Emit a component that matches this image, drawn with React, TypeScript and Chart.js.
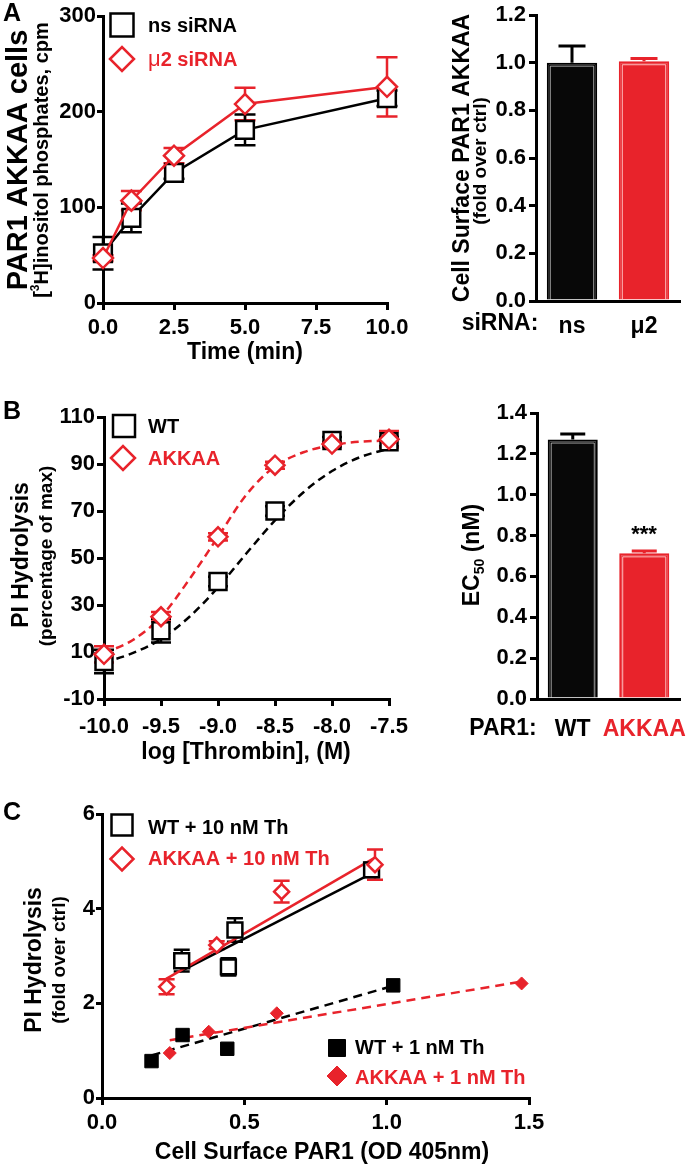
import React, { useEffect, useRef } from 'react';
import { Chart, registerables } from 'chart.js';

Chart.register(...registerables);

const FONT = '"Liberation Sans", Arial, Helvetica, sans-serif';
const RED = '#e8232b';
const BLACK = '#000000';
const BAR_BLACK = '#080808';

// ---------- Panel A (left): time course ----------
const timeMin = [0, 1, 2.5, 5, 10];
const nsSiRNA = [52, 89, 136, 181, 214];
const nsSiRNAErr = [17, 15, 6, 16, 8];
const mu2SiRNA = [47, 107, 154, 208, 226];
const mu2SiRNAErr = [3, 10, 8, 17, 31];

// ---------- Panel A (right): surface expression ----------
const sirnaLabels = ['ns', 'μ2'];
const surfaceAKKAA = [1.0, 1.006];
const surfaceAKKAAErr = [0.07, 0.012];

// ---------- Panel B (left): concentration response ----------
const logThrombin = [-10, -9.5, -9, -8.5, -8, -7.5];
const wtPI = [6, 19, 40, 70, 100, 99.5];
const wtPIErr = [5, 5, 2, 2, 1.5, 2];
const akkaaPI = [9, 25, 59, 89.5, 98.5, 100.5];
const akkaaPIErr = [3.5, 2, 1.5, 1.5, 1, 3.5];
// fitted curves
const fitLogX = [-10, -9.75, -9.5, -9.25, -9, -8.75, -8.5, -8.25, -8, -7.75, -7.5];
const wtFit = [5.5, 9.5, 15.5, 25, 37.5, 52, 66, 78, 87, 93, 96.5];
const akkaaFit = [9.5, 15, 25, 41, 59, 77, 89, 95, 98, 99.5, 100];

// ---------- Panel B (right): EC50 ----------
const par1Labels = ['WT', 'AKKAA'];
const ec50 = [1.27, 0.713];
const ec50Err = [0.027, 0.011];

// ---------- Panel C: PI hydrolysis vs surface PAR1 ----------
const wt10X = [0.28, 0.444, 0.467, 0.947];
const wt10Y = [2.9, 2.77, 3.55, 4.82];
const wt10Err = [0.23, 0.18, 0.25, 0.15];
const akkaa10X = [0.227, 0.403, 0.631, 0.959];
const akkaa10Y = [2.35, 3.23, 4.36, 4.93];
const akkaa10Err = [0.16, 0.08, 0.23, 0.32];
const wt1X = [0.174, 0.283, 0.44, 1.023];
const wt1Y = [0.78, 1.33, 1.04, 2.38];
const akkaa1X = [0.238, 0.375, 0.614, 1.474];
const akkaa1Y = [0.95, 1.4, 1.79, 2.42];
// regression lines (end points)
const wt10FitX = [0.274, 0.953];
const wt10FitY = [2.67, 4.76];
const akkaa10FitX = [0.221, 0.959];
const akkaa10FitY = [2.5, 5.08];
const wt1FitX = [0.174, 1.023];
const wt1FitY = [0.9, 2.37];
const akkaa1FitX = [0.238, 1.474];
const akkaa1FitY = [1.22, 2.46];

// ---------- helpers ----------
type Box = { left: number; top: number; width: number; height: number };
type Area = { left: number; top: number; right: number; bottom: number };
type Run = { t: string; font: string; dy?: number; color?: string };
type TextItem = { x: number; y: number; runs: Run[]; align?: 'left' | 'center' | 'right'; rot?: number; color?: string };
type Mark = { x: number; y: number; style: 'square' | 'diamond'; size: number; fill: string; stroke: string; lw: number };

const bold = (s: number) => `bold ${s}px ${FONT}`;
const regular = (s: number) => `${s}px ${FONT}`;
const ROT = -Math.PI / 2;
const Y_W = 50;
const X_H = 40;

const pts = (xs: number[], ys: number[]) => xs.map((x, i) => ({ x, y: ys[i] }));

function layoutFor(box: Box, area: Area) {
  return {
    padding: {
      left: area.left - box.left - Y_W,
      top: area.top - box.top,
      right: box.left + box.width - area.right,
      bottom: box.top + box.height - area.bottom - X_H,
    },
  };
}

const tickFont = { family: FONT, size: 22, weight: 'bold' as const };

function fitScale(horizontal: boolean) {
  return (s: any) => {
    if (horizontal) {
      s.height = X_H;
      s.paddingLeft = 0;
      s.paddingRight = 0;
    } else {
      s.width = Y_W;
      s.paddingTop = 0;
      s.paddingBottom = 0;
    }
  };
}

function linearAxis(min: number, max: number, step: number, decimals: number, tickLen: number, pad: number, horizontal: boolean) {
  return {
    type: 'linear',
    min,
    max,
    ticks: {
      stepSize: step,
      autoSkip: false,
      maxRotation: 0,
      minRotation: 0,
      padding: pad,
      color: BLACK,
      font: tickFont,
      callback: (v: any) => Number(v).toFixed(decimals),
    },
    grid: { display: true, drawOnChartArea: false, drawTicks: true, tickLength: tickLen, tickWidth: 3, tickColor: BLACK, color: BLACK, lineWidth: 3 },
    border: { display: true, color: BLACK, width: 3 },
    afterFit: fitScale(horizontal),
  };
}

function categoryAxis(pad: number, colors: string[]) {
  return {
    type: 'category',
    offset: true,
    ticks: {
      padding: pad,
      autoSkip: false,
      maxRotation: 0,
      minRotation: 0,
      font: { family: FONT, size: 23, weight: 'bold' as const },
      color: (c: any) => colors[c.index] || BLACK,
    },
    grid: { display: false, drawTicks: false },
    border: { display: true, color: BLACK, width: 3 },
    afterFit: fitScale(true),
  };
}

function decor(box: Box, texts: TextItem[], marks: Mark[]) {
  return {
    id: 'decor',
    afterDraw(chart: any) {
      const ctx: CanvasRenderingContext2D = chart.ctx;
      marks.forEach((m) => {
        const x = m.x - box.left;
        const y = m.y - box.top;
        ctx.save();
        ctx.beginPath();
        if (m.style === 'square') {
          ctx.rect(x - m.size / 2, y - m.size / 2, m.size, m.size);
        } else {
          const r = m.size / 2;
          ctx.moveTo(x - r, y);
          ctx.lineTo(x, y - r);
          ctx.lineTo(x + r, y);
          ctx.lineTo(x, y + r);
          ctx.closePath();
        }
        ctx.fillStyle = m.fill;
        ctx.fill();
        ctx.lineWidth = m.lw;
        ctx.strokeStyle = m.stroke;
        ctx.stroke();
        ctx.restore();
      });
      texts.forEach((it) => {
        ctx.save();
        ctx.translate(it.x - box.left, it.y - box.top);
        if (it.rot) ctx.rotate(it.rot);
        ctx.textBaseline = 'middle';
        ctx.textAlign = 'left';
        let total = 0;
        const widths = it.runs.map((r) => {
          ctx.font = r.font;
          const w = ctx.measureText(r.t).width;
          total += w;
          return w;
        });
        let x = it.align === 'center' ? -total / 2 : it.align === 'right' ? -total : 0;
        it.runs.forEach((r, i) => {
          ctx.font = r.font;
          ctx.fillStyle = r.color || it.color || BLACK;
          ctx.fillText(r.t, x, r.dy || 0);
          x += widths[i];
        });
        ctx.restore();
      });
    },
  };
}

const errorBarPlugin = {
  id: 'errorBarsCustom',
  beforeDatasetsDraw(chart: any) {
    const ctx: CanvasRenderingContext2D = chart.ctx;
    const yScale = chart.scales.y;
    chart.data.datasets.forEach((ds: any, di: number) => {
      if (!ds.errorBars) return;
      const meta = chart.getDatasetMeta(di);
      meta.data.forEach((el: any, i: number) => {
        const err = ds.errorBars[i];
        if (!err) return;
        const raw = ds.data[i];
        const v = typeof raw === 'number' ? raw : raw.y;
        const x = el.x;
        const yTop = yScale.getPixelForValue(v + err);
        const yBot = ds.errorUpOnly ? el.y : yScale.getPixelForValue(v - err);
        const color = Array.isArray(ds.errorColor) ? ds.errorColor[i] : ds.errorColor;
        const cap = (ds.errorCap || 20) / 2;
        ctx.save();
        ctx.strokeStyle = color;
        ctx.lineWidth = ds.errorWidth || 2.5;
        ctx.beginPath();
        ctx.moveTo(x, yTop);
        ctx.lineTo(x, yBot);
        ctx.moveTo(x - cap, yTop);
        ctx.lineTo(x + cap, yTop);
        if (!ds.errorUpOnly) {
          ctx.moveTo(x - cap, yBot);
          ctx.lineTo(x + cap, yBot);
        }
        ctx.stroke();
        ctx.restore();
      });
    });
  },
};

const barInnerLinePlugin = {
  id: 'barInnerLine',
  afterDatasetsDraw(chart: any) {
    const ctx: CanvasRenderingContext2D = chart.ctx;
    chart.data.datasets.forEach((ds: any, di: number) => {
      if (!ds.innerLine) return;
      const meta = chart.getDatasetMeta(di);
      meta.data.forEach((bar: any, i: number) => {
        const { x, y, base, width } = bar.getProps(['x', 'y', 'base', 'width'], true);
        const l = x - width / 2 + 3.5;
        const r = x + width / 2 - 3.5;
        const t = y + 3.5;
        ctx.save();
        ctx.strokeStyle = ds.innerLine[i];
        ctx.lineWidth = 1;
        ctx.beginPath();
        ctx.moveTo(l, base);
        ctx.lineTo(l, t);
        ctx.lineTo(r, t);
        ctx.lineTo(r, base);
        ctx.stroke();
        ctx.restore();
      });
    });
  },
};

const baseOptions = (box: Box, area: Area) => ({
  responsive: false,
  maintainAspectRatio: false,
  animation: false,
  devicePixelRatio: 1,
  events: [],
  layout: layoutFor(box, area),
  plugins: { legend: { display: false }, tooltip: { enabled: false }, title: { display: false } },
});

// ---------- Panel A left ----------
const BOX_A1: Box = { left: 0, top: 0, width: 420, height: 380 };
const AREA_A1: Area = { left: 103, top: 16, right: 387, bottom: 303 };

function configA1() {
  return {
    type: 'scatter',
    data: {
      datasets: [
        {
          label: 'μ2 siRNA',
          data: pts(timeMin, mu2SiRNA),
          showLine: true,
          borderColor: RED,
          borderWidth: 2.5,
          pointStyle: 'rectRot',
          pointRadius: 10,
          pointBackgroundColor: '#fff',
          pointBorderColor: RED,
          pointBorderWidth: 2.5,
          errorBars: mu2SiRNAErr,
          errorColor: RED,
          errorCap: 21,
          order: 1,
          clip: false,
        },
        {
          label: 'ns siRNA',
          data: pts(timeMin, nsSiRNA),
          showLine: true,
          borderColor: BLACK,
          borderWidth: 2.5,
          pointStyle: 'rect',
          pointRadius: 12.5,
          pointBackgroundColor: '#fff',
          pointBorderColor: BLACK,
          pointBorderWidth: 2.5,
          errorBars: nsSiRNAErr,
          errorColor: BLACK,
          errorCap: 21,
          order: 2,
          clip: false,
        },
      ],
    },
    options: {
      ...baseOptions(BOX_A1, AREA_A1),
      scales: {
        x: linearAxis(0, 10, 2.5, 1, 7, 5, true),
        y: linearAxis(0, 300, 100, 0, 6, 1, false),
      },
    },
    plugins: [
      errorBarPlugin,
      decor(
        BOX_A1,
        [
          { x: 3, y: 14, runs: [{ t: 'A', font: bold(25) }] },
          { x: 19, y: 160, rot: ROT, align: 'center', runs: [{ t: 'PAR1 AKKAA cells', font: bold(29) }] },
          {
            x: 42,
            y: 160,
            rot: ROT,
            align: 'center',
            runs: [
              { t: '[', font: bold(20) },
              { t: '3', font: bold(12), dy: -6 },
              { t: 'H]inositol phosphates, cpm', font: bold(20) },
            ],
          },
          { x: 245, y: 353, align: 'center', runs: [{ t: 'Time (min)', font: bold(23) }] },
          { x: 148, y: 26, runs: [{ t: 'ns siRNA', font: bold(20) }] },
          { x: 148, y: 60, color: RED, runs: [{ t: 'μ', font: regular(22) }, { t: '2 siRNA', font: bold(20) }] },
        ],
        [
          { x: 122, y: 25, style: 'square', size: 23, fill: '#fff', stroke: BLACK, lw: 2.5 },
          { x: 122, y: 59, style: 'diamond', size: 24, fill: '#fff', stroke: RED, lw: 2.5 },
        ]
      ),
    ],
  };
}

// ---------- Panel A right ----------
const BOX_A2: Box = { left: 440, top: 0, width: 253, height: 380 };
const AREA_A2: Area = { left: 536, top: 15, right: 680, bottom: 301 };

function configA2() {
  return {
    type: 'bar',
    data: {
      labels: sirnaLabels,
      datasets: [
        {
          data: surfaceAKKAA,
          backgroundColor: [BAR_BLACK, RED],
          borderColor: [BLACK, RED],
          borderWidth: 2,
          barPercentage: 0.7,
          categoryPercentage: 1,
          errorBars: surfaceAKKAAErr,
          errorColor: [BLACK, RED],
          errorUpOnly: true,
          errorCap: 27,
          errorWidth: 3,
          innerLine: ['rgba(255,255,255,0.6)', 'rgba(255,205,205,0.9)'],
        },
      ],
    },
    options: {
      ...baseOptions(BOX_A2, AREA_A2),
      scales: {
        x: categoryAxis(12, [BLACK, BLACK]),
        y: linearAxis(0, 1.2, 0.2, 1, 7, 3, false),
      },
    },
    plugins: [
      errorBarPlugin,
      barInnerLinePlugin,
      decor(
        BOX_A2,
        [
          { x: 463, y: 158, rot: ROT, align: 'center', runs: [{ t: 'Cell Surface PAR1 AKKAA', font: bold(23) }] },
          { x: 481, y: 161, rot: ROT, align: 'center', runs: [{ t: '(fold over ctrl)', font: bold(19) }] },
          { x: 500, y: 324, align: 'center', runs: [{ t: 'siRNA:', font: bold(23) }] },
        ],
        []
      ),
    ],
  };
}

// ---------- Panel B left ----------
const BOX_B1: Box = { left: 0, top: 380, width: 420, height: 390 };
const AREA_B1: Area = { left: 104, top: 417, right: 389, bottom: 699 };

function configB1() {
  return {
    type: 'scatter',
    data: {
      datasets: [
        {
          label: 'WT fit',
          data: pts(fitLogX, wtFit),
          showLine: true,
          borderColor: BLACK,
          borderWidth: 2.5,
          borderDash: [8, 5],
          cubicInterpolationMode: 'monotone',
          pointRadius: 0,
          order: 10,
          clip: false,
        },
        {
          label: 'AKKAA fit',
          data: pts(fitLogX, akkaaFit),
          showLine: true,
          borderColor: RED,
          borderWidth: 2.5,
          borderDash: [8, 5],
          cubicInterpolationMode: 'monotone',
          pointRadius: 0,
          order: 9,
          clip: false,
        },
        {
          label: 'WT',
          data: pts(logThrombin, wtPI),
          showLine: false,
          pointStyle: 'rect',
          pointRadius: 12,
          pointBackgroundColor: '#fff',
          pointBorderColor: BLACK,
          pointBorderWidth: 2.5,
          errorBars: wtPIErr,
          errorColor: BLACK,
          errorCap: 20,
          order: 5,
          clip: false,
        },
        {
          label: 'AKKAA',
          data: pts(logThrombin, akkaaPI),
          showLine: false,
          pointStyle: 'rectRot',
          pointRadius: 9.5,
          pointBackgroundColor: '#fff',
          pointBorderColor: RED,
          pointBorderWidth: 2.5,
          errorBars: akkaaPIErr,
          errorColor: RED,
          errorCap: 20,
          order: 1,
          clip: false,
        },
      ],
    },
    options: {
      ...baseOptions(BOX_B1, AREA_B1),
      scales: {
        x: linearAxis(-10, -7.5, 0.5, 1, 7, 8, true),
        y: linearAxis(-10, 110, 20, 0, 7, 2, false),
      },
    },
    plugins: [
      errorBarPlugin,
      decor(
        BOX_B1,
        [
          { x: 3, y: 412, runs: [{ t: 'B', font: bold(25) }] },
          { x: 22, y: 555, rot: ROT, align: 'center', runs: [{ t: 'PI Hydrolysis', font: bold(23) }] },
          { x: 47, y: 556, rot: ROT, align: 'center', runs: [{ t: '(percentage of max)', font: bold(19) }] },
          { x: 246, y: 753, align: 'center', runs: [{ t: 'log [Thrombin], (M)', font: bold(23) }] },
          { x: 148, y: 427, runs: [{ t: 'WT', font: bold(20) }] },
          { x: 148, y: 459, color: RED, runs: [{ t: 'AKKAA', font: bold(20) }] },
        ],
        [
          { x: 124, y: 426, style: 'square', size: 22, fill: '#fff', stroke: BLACK, lw: 2.5 },
          { x: 123, y: 458, style: 'diamond', size: 24, fill: '#fff', stroke: RED, lw: 2.5 },
        ]
      ),
    ],
  };
}

// ---------- Panel B right ----------
const BOX_B2: Box = { left: 440, top: 380, width: 253, height: 390 };
const AREA_B2: Area = { left: 537, top: 413, right: 680, bottom: 699 };

function configB2() {
  return {
    type: 'bar',
    data: {
      labels: par1Labels,
      datasets: [
        {
          data: ec50,
          backgroundColor: [BAR_BLACK, RED],
          borderColor: [BLACK, RED],
          borderWidth: 2,
          barPercentage: 0.7,
          categoryPercentage: 1,
          errorBars: ec50Err,
          errorColor: [BLACK, RED],
          errorUpOnly: true,
          errorCap: 25,
          errorWidth: 3,
          innerLine: ['rgba(255,255,255,0.6)', 'rgba(255,205,205,0.9)'],
        },
      ],
    },
    options: {
      ...baseOptions(BOX_B2, AREA_B2),
      scales: {
        x: categoryAxis(17, [BLACK, RED]),
        y: linearAxis(0, 1.4, 0.2, 1, 7, 3, false),
      },
    },
    plugins: [
      errorBarPlugin,
      barInnerLinePlugin,
      decor(
        BOX_B2,
        [
          {
            x: 473,
            y: 555,
            rot: ROT,
            align: 'center',
            runs: [
              { t: 'EC', font: bold(23) },
              { t: '50', font: bold(14), dy: 7 },
              { t: ' (nM)', font: bold(23) },
            ],
          },
          { x: 644, y: 535, align: 'center', runs: [{ t: '***', font: bold(22) }] },
          { x: 503, y: 729, align: 'center', runs: [{ t: 'PAR1:', font: bold(23) }] },
        ],
        []
      ),
    ],
  };
}

// ---------- Panel C ----------
const BOX_C: Box = { left: 0, top: 770, width: 693, height: 400 };
const AREA_C: Area = { left: 102, top: 814, right: 529, bottom: 1098 };

function configC() {
  return {
    type: 'scatter',
    data: {
      datasets: [
        { label: 'WT 10 fit', data: pts(wt10FitX, wt10FitY), showLine: true, borderColor: BLACK, borderWidth: 2.5, pointRadius: 0, order: 12, clip: false },
        { label: 'AKKAA 10 fit', data: pts(akkaa10FitX, akkaa10FitY), showLine: true, borderColor: RED, borderWidth: 2.5, pointRadius: 0, order: 11, clip: false },
        { label: 'WT 1 fit', data: pts(wt1FitX, wt1FitY), showLine: true, borderColor: BLACK, borderWidth: 2.5, borderDash: [9, 6], pointRadius: 0, order: 10, clip: false },
        { label: 'AKKAA 1 fit', data: pts(akkaa1FitX, akkaa1FitY), showLine: true, borderColor: RED, borderWidth: 2.5, borderDash: [9, 6], pointRadius: 0, order: 9, clip: false },
        {
          label: 'WT + 10 nM Th',
          data: pts(wt10X, wt10Y),
          pointStyle: 'rect',
          pointRadius: 10.5,
          pointBackgroundColor: '#fff',
          pointBorderColor: BLACK,
          pointBorderWidth: 2.5,
          errorBars: wt10Err,
          errorColor: BLACK,
          errorCap: 16,
          order: 5,
          clip: false,
        },
        {
          label: 'AKKAA + 10 nM Th',
          data: pts(akkaa10X, akkaa10Y),
          pointStyle: 'rectRot',
          pointRadius: 7.5,
          pointBackgroundColor: '#fff',
          pointBorderColor: RED,
          pointBorderWidth: 2.5,
          errorBars: akkaa10Err,
          errorColor: RED,
          errorCap: 16,
          order: 4,
          clip: false,
        },
        {
          label: 'WT + 1 nM Th',
          data: pts(wt1X, wt1Y),
          pointStyle: 'rect',
          pointRadius: 9.5,
          pointBackgroundColor: BLACK,
          pointBorderColor: BLACK,
          pointBorderWidth: 1,
          order: 3,
          clip: false,
        },
        {
          label: 'AKKAA + 1 nM Th',
          data: pts(akkaa1X, akkaa1Y),
          pointStyle: 'rectRot',
          pointRadius: 6.5,
          pointBackgroundColor: RED,
          pointBorderColor: RED,
          pointBorderWidth: 1,
          order: 2,
          clip: false,
        },
      ],
    },
    options: {
      ...baseOptions(BOX_C, AREA_C),
      scales: {
        x: linearAxis(0, 1.5, 0.5, 1, 7, 5, true),
        y: linearAxis(0, 6, 2, 0, 6, 1, false),
      },
    },
    plugins: [
      errorBarPlugin,
      decor(
        BOX_C,
        [
          { x: 3, y: 813, runs: [{ t: 'C', font: bold(25) }] },
          { x: 35, y: 960, rot: ROT, align: 'center', runs: [{ t: 'PI Hydrolysis', font: bold(23) }] },
          { x: 60, y: 960, rot: ROT, align: 'center', runs: [{ t: '(fold over ctrl)', font: bold(19) }] },
          { x: 322, y: 1153, align: 'center', runs: [{ t: 'Cell Surface PAR1 (OD 405nm)', font: bold(23) }] },
          { x: 148, y: 828, runs: [{ t: 'WT + 10 nM Th', font: bold(20) }] },
          { x: 148, y: 859, color: RED, runs: [{ t: 'AKKAA + 10 nM Th', font: bold(20) }] },
          { x: 355, y: 1048, runs: [{ t: 'WT + 1 nM Th', font: bold(20) }] },
          { x: 355, y: 1078, color: RED, runs: [{ t: 'AKKAA + 1 nM Th', font: bold(20) }] },
        ],
        [
          { x: 122, y: 825, style: 'square', size: 21, fill: '#fff', stroke: BLACK, lw: 2.5 },
          { x: 122, y: 859, style: 'diamond', size: 23, fill: '#fff', stroke: RED, lw: 2.5 },
          { x: 337, y: 1048, style: 'square', size: 17, fill: BLACK, stroke: BLACK, lw: 1 },
          { x: 337, y: 1076, style: 'diamond', size: 20, fill: RED, stroke: RED, lw: 1 },
        ]
      ),
    ],
  };
}

function ChartCanvas({ box, make }: { box: Box; make: () => any }) {
  const ref = useRef<HTMLCanvasElement>(null);
  useEffect(() => {
    if (!ref.current) return;
    const chart = new Chart(ref.current, make());
    return () => chart.destroy();
  }, []);
  return (
    <canvas
      ref={ref}
      width={box.width}
      height={box.height}
      style={{ position: 'absolute', left: box.left, top: box.top, width: box.width, height: box.height }}
    />
  );
}

export default function App() {
  return (
    <div style={{ position: 'absolute', left: 0, top: 0, width: 693, height: 1170, background: '#fff', overflow: 'hidden' }}>
      <ChartCanvas box={BOX_A1} make={configA1} />
      <ChartCanvas box={BOX_A2} make={configA2} />
      <ChartCanvas box={BOX_B1} make={configB1} />
      <ChartCanvas box={BOX_B2} make={configB2} />
      <ChartCanvas box={BOX_C} make={configC} />
    </div>
  );
}
